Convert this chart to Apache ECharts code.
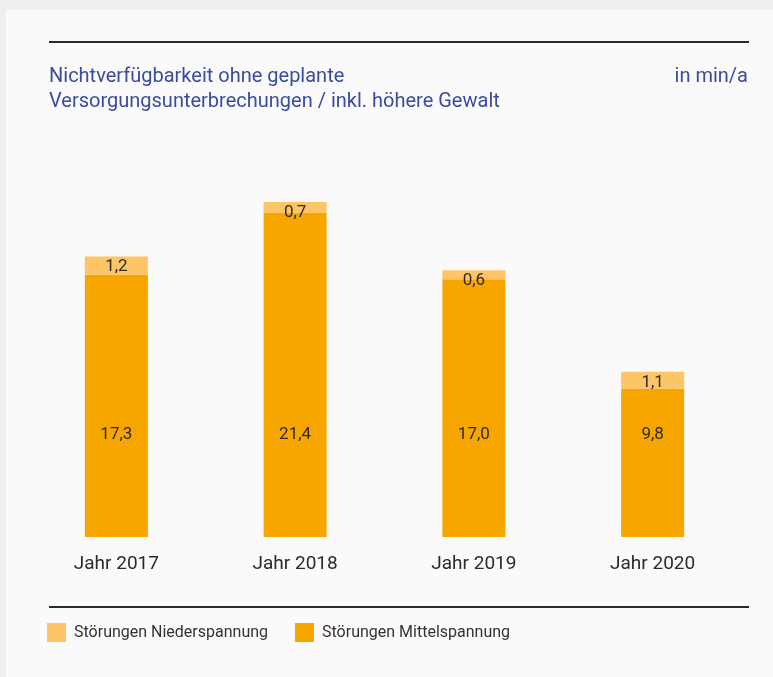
<!DOCTYPE html>
<html>
<head>
<meta charset="utf-8">
<script src="https://cdn.jsdelivr.net/npm/echarts@6/dist/echarts.min.js"></script>
<style>
  html, body { margin: 0; padding: 0; background: #efefed; }
  #chart { width: 773px; height: 677px; }
</style>
</head>
<body>
<div id="chart"></div>
<script>
  // Werte aus der Grafik (min/a)
  const jahre = ['Jahr 2017', 'Jahr 2018', 'Jahr 2019', 'Jahr 2020'];
  const mittelspannung = [17.3, 21.4, 17.0, 9.8];
  const niederspannung = [1.2, 0.7, 0.6, 1.1];

  const FONT = 'Roboto, "DejaVu Sans", sans-serif';
  const fmt = function (p) { return p.value.toFixed(1).replace('.', ','); };

  const chart = echarts.init(document.getElementById('chart'));
  chart.setOption({
    backgroundColor: '#efefed',
    animation: false,
    textStyle: { fontFamily: FONT },
    graphic: [
      { type: 'rect', z: -10, shape: { x: 6, y: 10, width: 767, height: 667 }, style: { fill: '#fafafa' } },
      { type: 'rect', shape: { x: 49, y: 41, width: 700, height: 2 }, style: { fill: '#2b2b2b' } },
      { type: 'rect', shape: { x: 49, y: 606, width: 700, height: 2 }, style: { fill: '#2b2b2b' } }
    ],
    title: [
      {
        text: 'Nichtverfügbarkeit ohne geplante\nVersorgungsunterbrechungen / inkl. höhere Gewalt',
        left: 44, top: 59,
        textStyle: { color: '#3b4c9f', fontSize: 20, fontWeight: 'normal', lineHeight: 25, fontFamily: FONT }
      },
      {
        text: 'in min/a',
        right: 20, top: 59,
        textStyle: { color: '#3b4c9f', fontSize: 20, fontWeight: 'normal', lineHeight: 25, fontFamily: FONT }
      }
    ],
    legend: {
      left: 42, top: 618,
      itemWidth: 19, itemHeight: 19, itemGap: 27,
      icon: 'rect',
      textStyle: { color: '#333', fontSize: 16, fontFamily: FONT, padding: [0, 0, 0, 3] },
      data: ['Störungen Niederspannung', 'Störungen Mittelspannung']
    },
    grid: { left: 27, right: 31, top: 158, bottom: 140 },
    xAxis: {
      type: 'category',
      data: jahre,
      axisLine: { show: false },
      axisTick: { show: false },
      axisLabel: { color: '#2b2b2b', fontSize: 19, margin: 18, fontFamily: FONT }
    },
    yAxis: { type: 'value', min: 0, max: 25, show: false, splitLine: { show: false } },
    series: [
      {
        name: 'Störungen Mittelspannung',
        type: 'bar',
        stack: 'gesamt',
        barWidth: 63,
        data: mittelspannung,
        itemStyle: { color: '#f7a600' },
        label: {
          show: true, position: 'insideBottom', distance: 94,
          color: '#2b2b2b', fontSize: 17, formatter: fmt
        }
      },
      {
        name: 'Störungen Niederspannung',
        type: 'bar',
        stack: 'gesamt',
        barWidth: 63,
        data: niederspannung,
        itemStyle: { color: '#fec566' },
        label: {
          show: true, position: 'insideTop', distance: 2,
          color: '#2b2b2b', fontSize: 17, formatter: fmt
        }
      }
    ]
  });
</script>
</body>
</html>
